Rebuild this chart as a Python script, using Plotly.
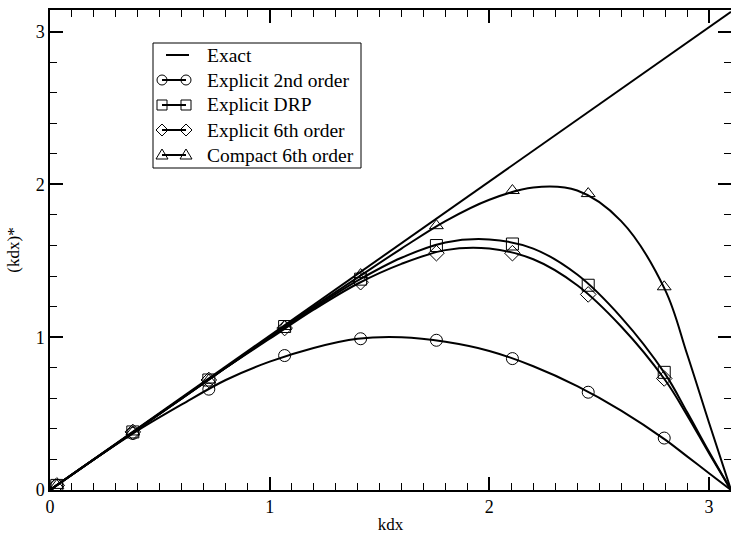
import plotly.graph_objects as go

# ---- data ----
kdx = [0.0, 0.2, 0.4, 0.6, 0.8, 1.0, 1.2, 1.4, 1.6, 1.8, 2.0, 2.2, 2.4, 2.6, 2.8, 2.9, 3.0, 3.1]
exact_x = [0.0, 3.1]
exact_y = [0.0, 3.13]
second_order = [0.0, 0.20, 0.39, 0.56, 0.72, 0.84, 0.93, 0.99, 1.00, 0.97, 0.91, 0.81, 0.68, 0.52, 0.33, 0.22, 0.11, 0.0]
drp = [0.0, 0.20, 0.40, 0.60, 0.80, 1.00, 1.19, 1.37, 1.52, 1.62, 1.64, 1.58, 1.41, 1.13, 0.76, 0.51, 0.25, 0.0]
sixth_order = [0.0, 0.20, 0.40, 0.60, 0.80, 0.99, 1.18, 1.35, 1.48, 1.57, 1.58, 1.51, 1.34, 1.07, 0.72, 0.49, 0.24, 0.0]
compact = [0.0, 0.20, 0.40, 0.60, 0.80, 1.00, 1.20, 1.39, 1.58, 1.76, 1.90, 1.98, 1.96, 1.76, 1.31, 0.89, 0.44, 0.0]

marker_x = [0.031, 0.377, 0.723, 1.068, 1.414, 1.759, 2.105, 2.450, 2.796]
second_order_m = [0.03, 0.37, 0.66, 0.88, 0.99, 0.98, 0.86, 0.64, 0.34]
drp_m = [0.03, 0.38, 0.72, 1.07, 1.38, 1.60, 1.61, 1.34, 0.77]
sixth_order_m = [0.03, 0.38, 0.72, 1.06, 1.36, 1.55, 1.55, 1.28, 0.73]
compact_m = [0.03, 0.38, 0.72, 1.07, 1.41, 1.73, 1.96, 1.94, 1.33]

legend_names = ["Exact", "Explicit 2nd order", "Explicit DRP", "Explicit 6th order", "Compact 6th order"]
symbols = ["circle-open", "square-open", "diamond-open", "triangle-up-open"]
legend_kinds = [None, "circle", "square", "diamond", "triangle"]
curves = [second_order, drp, sixth_order, compact]
marks = [second_order_m, drp_m, sixth_order_m, compact_m]

FONT = "Liberation Serif, Times New Roman, DejaVu Serif, serif"
W, H = 731, 535
ML, MR, MT, MB = 50, 0, 10, 45
PW, PH = W - ML - MR, H - MT - MB

fig = go.Figure()

fig.add_trace(go.Scatter(x=exact_x, y=exact_y, mode="lines", name="Exact", showlegend=False,
                         line=dict(color="black", width=2)))

for sym, cy, my in zip(symbols, curves, marks):
    fig.add_trace(go.Scatter(x=kdx, y=cy, mode="lines", showlegend=False,
                             line=dict(color="black", width=2, shape="spline", smoothing=1.0)))
    fig.add_trace(go.Scatter(x=marker_x, y=my, mode="markers", showlegend=False,
                             marker=dict(symbol=sym, size=12, color="black",
                                         line=dict(color="black", width=1))))

axis_common = dict(
    showline=True, linecolor="black", linewidth=1.5, mirror="ticks",
    ticks="inside", ticklen=13, tickwidth=1.5, tickcolor="black",
    showgrid=False, zeroline=False, dtick=1, automargin=False,
    tickfont=dict(family=FONT, size=18, color="black"),
)

fig.update_xaxes(range=[0, 3.1], **axis_common,
                 minor=dict(dtick=0.1, ticks="inside", ticklen=7, tickcolor="black", tickwidth=1, showgrid=False),
                 title=dict(text="kdx", font=dict(family=FONT, size=17, color="black"), standoff=2))
fig.update_yaxes(range=[0, 3.1416], **axis_common,
                 minor=dict(dtick=0.2, ticks="inside", ticklen=7, tickcolor="black", tickwidth=1, showgrid=False),
                 title=dict(text="(kdx)*", font=dict(family=FONT, size=17, color="black"), standoff=12))

# ---- hand-drawn legend box (layout decoration, pixel positions -> paper) ----
def px(x):
    return (x - ML) / PW

def py(y):
    return (H - MB - y) / PH

shapes = []
annotations = []
box = dict(l=153, t=43, r=361, b=168)
shapes.append(dict(type="rect", xref="paper", yref="paper",
                   x0=px(box["l"]), x1=px(box["r"]), y0=py(box["b"]), y1=py(box["t"]),
                   line=dict(color="black", width=1), fillcolor="white", layer="above"))
row0, row_step = 55, 25
m_left, m_right, r = 162, 186, 5
for i, (nm, kind) in enumerate(zip(legend_names, legend_kinds)):
    yc = row0 + i * row_step
    if kind is None:
        x_a, x_b = 166, 189
    else:
        x_a, x_b = m_left, m_right
    shapes.append(dict(type="line", xref="paper", yref="paper",
                       x0=px(x_a), x1=px(x_b), y0=py(yc), y1=py(yc),
                       line=dict(color="black", width=2), layer="above"))
    if kind is not None:
        for xc in (m_left, m_right):
            if kind == "circle":
                shapes.append(dict(type="circle", xref="paper", yref="paper",
                                   x0=px(xc - r), x1=px(xc + r), y0=py(yc + r), y1=py(yc - r),
                                   line=dict(color="black", width=1), fillcolor="rgba(0,0,0,0)", layer="above"))
            elif kind == "square":
                shapes.append(dict(type="rect", xref="paper", yref="paper",
                                   x0=px(xc - r), x1=px(xc + r), y0=py(yc + r), y1=py(yc - r),
                                   line=dict(color="black", width=1), fillcolor="rgba(0,0,0,0)", layer="above"))
            elif kind == "diamond":
                rr = r + 1
                path = (f"M {px(xc - rr)} {py(yc)} L {px(xc)} {py(yc - rr)} "
                        f"L {px(xc + rr)} {py(yc)} L {px(xc)} {py(yc + rr)} Z")
                shapes.append(dict(type="path", xref="paper", yref="paper", path=path,
                                   line=dict(color="black", width=1), layer="above"))
            elif kind == "triangle":
                path = (f"M {px(xc - r - 1)} {py(yc + r - 1)} L {px(xc)} {py(yc - r - 1)} "
                        f"L {px(xc + r + 1)} {py(yc + r - 1)} Z")
                shapes.append(dict(type="path", xref="paper", yref="paper", path=path,
                                   line=dict(color="black", width=1), layer="above"))
    annotations.append(dict(text=nm, xref="paper", yref="paper", x=px(205), y=py(yc),
                            xanchor="left", yanchor="middle", showarrow=False,
                            font=dict(family=FONT, size=19.5, color="black")))

fig.update_layout(
    width=W, height=H,
    margin=dict(l=ML, r=MR, t=MT, b=MB),
    paper_bgcolor="white", plot_bgcolor="white",
    font=dict(family=FONT, color="black"),
    showlegend=False,
    shapes=shapes, annotations=annotations,
)

fig.write_html("out.html", config={"displayModeBar": False},
               post_script="document.body.style.margin='0';document.body.style.overflow='hidden';")
